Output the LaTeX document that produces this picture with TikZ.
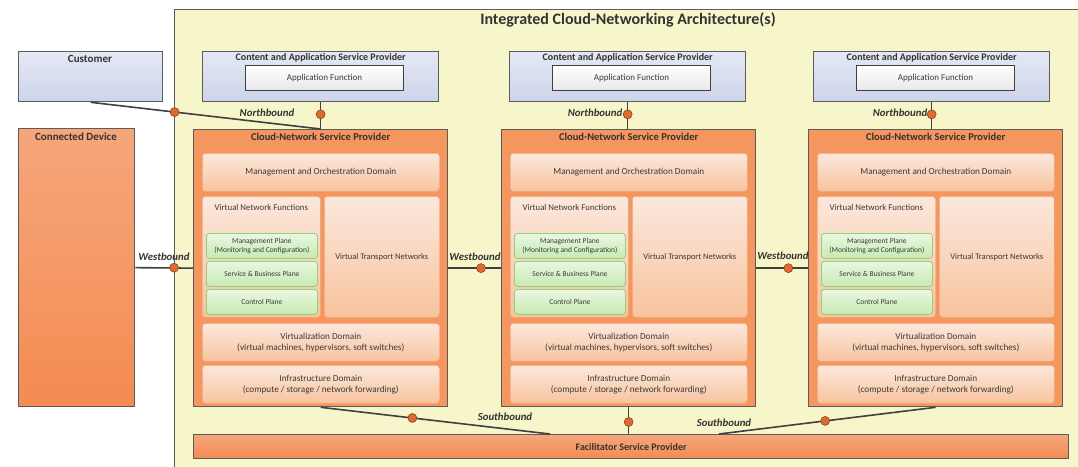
\documentclass[tikz,border=0pt]{standalone}
\usepackage{fontspec}
\setmainfont{Carlito}
\usetikzlibrary{calc}

\definecolor{archfill}{HTML}{F7F6CA}
\definecolor{edgegray}{HTML}{5C5C5C}
\definecolor{linkgray}{HTML}{404040}
\definecolor{lavtop}{HTML}{E4E8F5}
\definecolor{lavbot}{HTML}{CDD4EA}
\definecolor{orgtop}{HTML}{F6A67B}
\definecolor{orgbot}{HTML}{F48B52}
\definecolor{cnspfill}{HTML}{F5965F}
\definecolor{peachtop}{HTML}{FBE8DC}
\definecolor{peachbot}{HTML}{F8C39E}
\definecolor{peachedge}{HTML}{F2A676}
\definecolor{greentop}{HTML}{E9F7E0}
\definecolor{greenbot}{HTML}{C7EAB2}
\definecolor{greenedge}{HTML}{93CF7E}
\definecolor{portfill}{HTML}{E2682C}
\definecolor{inktext}{HTML}{3A3A3A}

% rectangular area: name, style, x1, y1, x2, y2, text
\newcommand{\areabox}[7]{%
  \node[#2, anchor=north west, inner sep=1pt,
        minimum width={((#5)-(#3))*1pt},
        minimum height={((#6)-(#4))*1pt}] (#1) at (#3,#4) {#7};}

\begin{document}
\begin{tikzpicture}[x=1pt, y=-1pt,
  outerbox/.style={draw=edgegray, line width=1.2pt, fill=archfill},
  bluebox/.style={draw=edgegray, line width=1.3pt, top color=lavtop, bottom color=lavbot},
  appbox/.style={draw=black!75, line width=1pt, top color=white, bottom color=black!9,
    text=inktext, font=\fontsize{9}{10}\selectfont},
  orangebox/.style={draw=edgegray, line width=1.3pt, top color=orgtop, bottom color=orgbot},
  cnspbox/.style={draw=edgegray, line width=1.3pt, fill=cnspfill},
  domainbox/.style={rounded corners=3pt, draw=peachedge, line width=0.6pt,
    top color=peachtop, bottom color=peachbot, text=inktext, align=center,
    font=\fontsize{9.2}{11}\selectfont},
  planebox/.style={rounded corners=3pt, draw=greenedge, line width=0.8pt,
    top color=greentop, bottom color=greenbot, text=inktext, align=center,
    font=\fontsize{7.5}{8.6}\selectfont},
  headline/.style={font=\bfseries\fontsize{16}{18}\selectfont, text=black!80},
  boxtitle/.style={font=\bfseries\fontsize{10}{11}\selectfont, text=black!80, inner sep=0pt},
  bigtitle/.style={font=\bfseries\fontsize{11}{12}\selectfont, text=black!80, inner sep=0pt},
  plaintext/.style={font=\fontsize{8.8}{10}\selectfont, text=inktext, inner sep=0pt},
  link/.style={draw=linkgray, line width=1.6pt},
  port/.style={circle, fill=portfill, draw=portfill!55!black, line width=0.5pt,
    minimum size=9pt, inner sep=0pt},
  iface/.style={font=\bfseries\itshape\fontsize{10.8}{11}\selectfont, text=black!80, inner sep=0pt}]

\useasboundingbox (0,0) rectangle (1078,466);
\fill[white] (0,0) rectangle (1078,466);

% the architecture frame runs off the right and bottom edges
\begin{scope}
  \clip (0,0) rectangle (1078,466);
  \areabox{outer}{outerbox}{174}{9}{1100}{490}{}
\end{scope}
\node[headline] (archtitle) at (628,20) {Integrated Cloud-Networking Architecture(s)};

% parties outside the frame
\areabox{customer}{bluebox}{18}{51}{162}{101}{}
\node[bigtitle] (customertitle) at (90,59) {Customer};
\areabox{device}{orangebox}{18}{128}{134}{406}{}
\node[bigtitle] (devicetitle) at (76,137) {Connected Device};

% facilitator along the bottom
\areabox{fac}{orangebox}{193}{434}{1068}{458}{}
\node[boxtitle] (factitle) at (fac.center) {Facilitator Service Provider};

% three provider stacks
\foreach \i/\ox/\ax in {1/0/202, 2/308/509, 3/615/813}{
  \areabox{casp\i}{bluebox}{\ax}{51}{\ax+236}{101}{}
  \node[boxtitle] (casptitle\i) at ($(casp\i.north)+(0,7)$) {Content and Application Service Provider};
  \areabox{app\i}{appbox}{\ax+43}{65}{\ax+201}{90}{Application Function}

  \areabox{cnsp\i}{cnspbox}{193+\ox}{129}{447+\ox}{406}{}
  \node[font=\bfseries\fontsize{10.5}{11}\selectfont, text=black!80, inner sep=0pt]
    (cnsptitle\i) at ($(cnsp\i.north)+(0,8)$) {Cloud-Network Service Provider};
  \areabox{mgmt\i}{domainbox}{202+\ox}{153}{439+\ox}{191}{Management and Orchestration Domain}
  \areabox{vnf\i}{domainbox}{202+\ox}{196}{320+\ox}{317}{}
  \node[plaintext] (vnftitle\i) at ($(vnf\i.north)+(0,11)$) {Virtual Network Functions};
  \areabox{vtn\i}{domainbox}{324+\ox}{196}{439+\ox}{317}{\fontsize{8.5}{10}\selectfont Virtual Transport Networks}
  \areabox{mplane\i}{planebox}{206+\ox}{233}{317+\ox}{258}{Management Plane\\(Monitoring and Configuration)}
  \areabox{splane\i}{planebox}{206+\ox}{261}{317+\ox}{286}{Service \& Business Plane}
  \areabox{cplane\i}{planebox}{206+\ox}{289}{317+\ox}{314}{Control Plane}
  \areabox{virt\i}{domainbox}{202+\ox}{323}{439+\ox}{361}{Virtualization Domain\\(virtual machines, hypervisors, soft switches)}
  \areabox{infra\i}{domainbox}{202+\ox}{365}{439+\ox}{403}{Infrastructure Domain\\(compute / storage / network forwarding)}

  % northbound interface
  \coordinate (nbend\i) at (casp\i.south |- cnsp\i.north);
  \draw[link] (casp\i.south) -- (nbend\i);
  \node[port] (nbport\i) at ($(casp\i.south)!0.45!(nbend\i)$) {};
}

% customer reaches the first provider
\draw[link] (customer.south) -- (cnsp1.north);
\node[port] (custport) at ($(customer.south)!0.365!(cnsp1.north)$) {};

% westbound interfaces
\draw[link] (device.east) -- (cnsp1.west);
\node[port] (wbport1) at (outer.west |- device.east) {};
\draw[link] (cnsp1.east) -- (cnsp2.west);
\node[port] (wbport2) at ($(cnsp1.east)!0.62!(cnsp2.west)$) {};
\draw[link] (cnsp2.east) -- (cnsp3.west);
\node[port] (wbport3) at ($(cnsp2.east)!0.62!(cnsp3.west)$) {};

% southbound interfaces
\coordinate (sbend1) at (550,434);
\coordinate (sbend3) at (719,434);
\coordinate (sbend2) at (cnsp2.south |- fac.north);
\draw[link] (cnsp1.south) -- (sbend1);
\node[port] (sbport1) at ($(cnsp1.south)!0.4!(sbend1)$) {};
\draw[link] (cnsp2.south) -- (sbend2);
\node[port] (sbport2) at ($(cnsp2.south)!0.55!(sbend2)$) {};
\draw[link] (cnsp3.south) -- (sbend3);
\node[port] (sbport3) at ($(cnsp3.south)!0.51!(sbend3)$) {};

% interface labels
\node[iface] (nblabel1) at (267,113) {Northbound};
\node[iface] (nblabel2) at (595,113) {Northbound};
\node[iface] (nblabel3) at (900,113) {Northbound};
\node[iface] (wblabel1) at (164,257) {Westbound};
\node[iface] (wblabel2) at (475,257) {Westbound};
\node[iface] (wblabel3) at (783,256) {Westbound};
\node[iface] (sblabel1) at (505,417) {Southbound};
\node[iface] (sblabel2) at (724,423) {Southbound};
\end{tikzpicture}
\end{document}
